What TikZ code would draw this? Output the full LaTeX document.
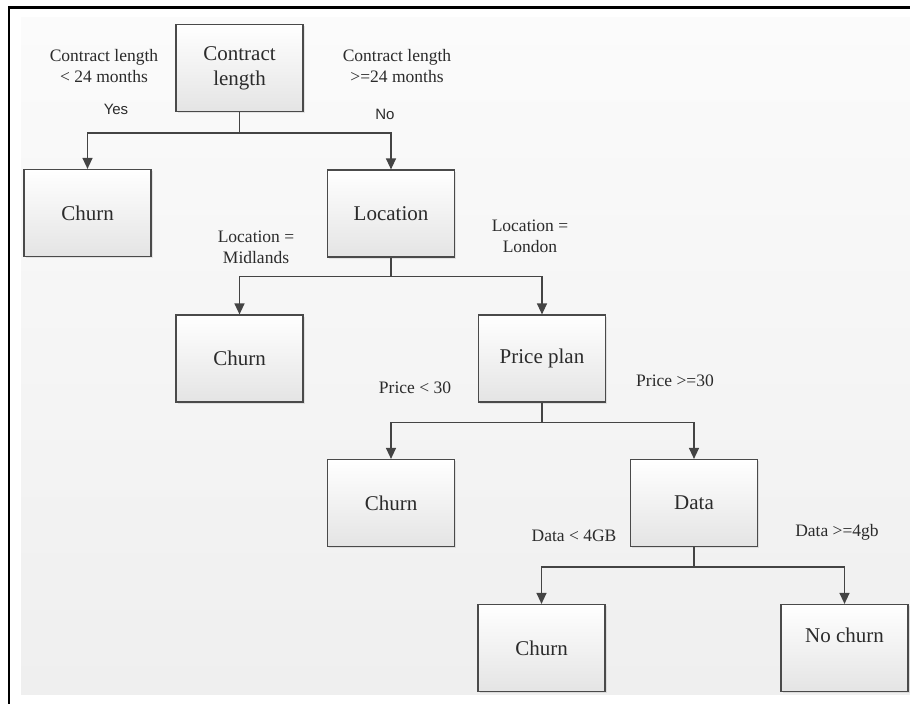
\documentclass[tikz,border=0pt]{standalone}
\usepackage{fontspec}
\setmainfont{Liberation Serif}
\newfontfamily\answersans{Liberation Sans}
\usetikzlibrary{arrows.meta,shadows}

\definecolor{boxline}{HTML}{4A4A4A}
\definecolor{boxbottom}{HTML}{E4E4E4}
\definecolor{linegray}{HTML}{444444}
\definecolor{textgray}{HTML}{2B2B2B}
\definecolor{bgtop}{HTML}{FBFBFB}
\definecolor{bgbottom}{HTML}{EFEFEF}

\begin{document}
\begin{tikzpicture}[x=1pt,y=-1pt,
  box/.style={draw=boxline, line width=1.2pt, top color=white, bottom color=boxbottom,
    minimum width=127pt, minimum height=87pt, inner sep=0pt, align=center,
    text=textgray, font=\fontsize{21}{25}\selectfont,
    drop shadow={opacity=0.18, shadow xshift=1.5pt, shadow yshift=-1.5pt}},
  cond/.style={align=center, text=textgray, font=\fontsize{17.5}{21}\selectfont},
  answer/.style={text=textgray, font=\answersans\fontsize{15}{18}\selectfont},
  link/.style={draw=linegray, line width=1.3pt, -{Triangle[width=10pt,length=11pt]}}
]
\useasboundingbox (0,0) rectangle (910,704);

% page frame and shaded backdrop
\fill[white] (0,0) rectangle (910,704);
\shade[top color=bgtop, bottom color=bgbottom] (21,17) rectangle (910,694);
\fill[black] (7.5,6) rectangle (910,8.7);
\fill[black] (7.5,6) rectangle (10.2,704);

% decision and leaf boxes
\node[box] (cl)   at (239.5,68)  {Contract\\length};
\node[box] (ch1)  at (87.5,213)  {Churn};
\node[box] (loc)  at (391,213.5) {Location};
\node[box] (ch2)  at (239.5,358.5) {Churn};
\node[box] (pp)   at (542,358.5) {Price plan};
\node[box] (ch3)  at (391,503)   {Churn};
\node[box] (dat)  at (694,503)   {Data};
\node[box] (ch4)  at (541.5,648) {Churn};
\node[box] (nch)  at (844.5,648) {\raisebox{6pt}[0pt][0pt]{No churn}};

% branch conditions
\node[cond] (c1) at (104,66)  {Contract length\\< 24 months};
\node[answer] (yes) at (116,109) {Yes};
\node[cond] (c2) at (397,66)  {Contract length\\>=24 months};
\node[answer] (no) at (385,114) {No};
\node[cond] (c3) at (256,247) {Location =\\Midlands};
\node[cond] (c4) at (530,236) {Location =\\London};
\node[cond] (c5) at (415,388) {Price < 30};
\node[cond] (c6) at (675,381) {Price >=30};
\node[cond] (c7) at (574,536) {Data < 4GB};
\node[cond] (c8) at (837,532) {Data >=4gb};

% connectors
\draw[link] (cl.south)  -- ++(0,21) -| (ch1.north);
\draw[link] (cl.south)  -- ++(0,21) -| (loc.north);
\draw[link] (loc.south) -- ++(0,19) -| (ch2.north);
\draw[link] (loc.south) -- ++(0,19) -| (pp.north);
\draw[link] (pp.south)  -- ++(0,20) -| (ch3.north);
\draw[link] (pp.south)  -- ++(0,20) -| (dat.north);
\draw[link] (dat.south) -- ++(0,20) -| (ch4.north);
\draw[link] (dat.south) -- ++(0,20) -| (nch.north);
\end{tikzpicture}
\end{document}
